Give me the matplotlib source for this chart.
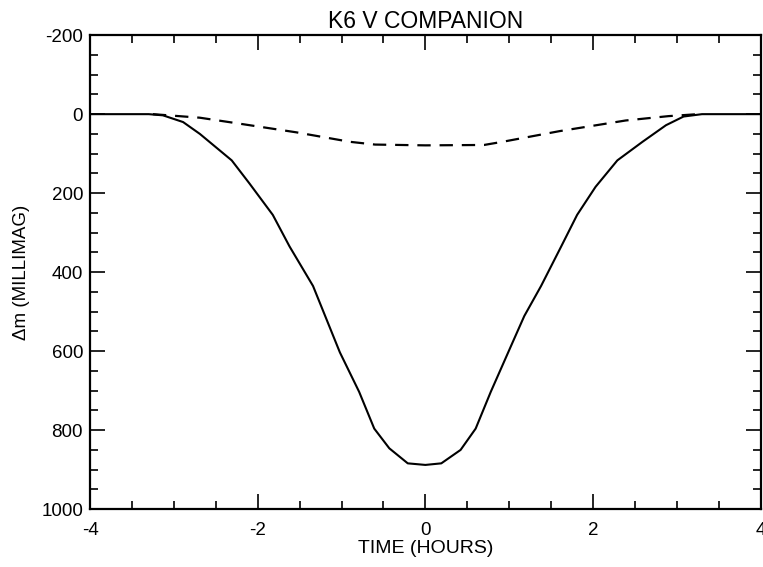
import matplotlib
matplotlib.use("Agg")
import matplotlib.pyplot as plt
from matplotlib.ticker import MultipleLocator

plt.rcParams['font.family'] = ['Liberation Sans', 'DejaVu Sans']
plt.rcParams['axes.unicode_minus'] = False

# Solid curve (total eclipse depth)
t_solid = [-4.0, -3.3, -3.13, -2.89, -2.69, -2.31, -2.10, -1.82, -1.62, -1.34, -1.02,
           -0.79, -0.61, -0.43, -0.21, 0.0, 0.19, 0.42, 0.6, 0.78, 1.04, 1.18, 1.38,
           1.62, 1.81, 2.03, 2.29, 2.59, 2.87, 3.08, 3.3, 4.0]
dm_solid = [0, 0, 3, 20, 50, 117, 175, 255, 335, 435, 603,
            703, 796, 846, 884, 888, 884, 850, 796, 703, 578, 511, 435,
            335, 255, 184, 117, 70, 28, 6, 0, 0]

# Dashed curve
t_dash = [-3.25, -2.69, -2.25, -1.54, -0.9, -0.6, 0.0, 0.7, 0.92, 1.6, 2.39, 2.9, 3.25]
dm_dash = [0, 9, 23, 46, 70, 77, 79, 78, 70, 43, 16, 5, 0]

title = "K6 V COMPANION"
xlabel = "TIME (HOURS)"
ylabel = "Δm (MILLIMAG)"

fig = plt.figure(figsize=(7.63, 5.67), dpi=100)
ax = fig.add_axes([0.118, 0.102, 0.879, 0.836])

ax.plot(t_solid, dm_solid, color='black', lw=1.5)
ax.plot(t_dash, dm_dash, color='black', lw=1.6, dashes=(6, 4))

ax.set_xlim(-4, 4)
ax.set_ylim(1000, -200)

ax.xaxis.set_major_locator(MultipleLocator(2))
ax.xaxis.set_minor_locator(MultipleLocator(0.5))
ax.yaxis.set_major_locator(MultipleLocator(200))
ax.yaxis.set_minor_locator(MultipleLocator(50))

ax.tick_params(which='both', direction='in', top=True, right=True, width=1.2,
               labelsize=13.5, colors='black')
ax.tick_params(which='major', length=11)
ax.tick_params(which='minor', length=6)
ax.tick_params(axis='x', which='major', pad=9)
ax.tick_params(axis='y', which='major', pad=5)
for s in ax.spines.values():
    s.set_linewidth(1.6)

ax.set_title(title, fontsize=16.5, pad=5)
ax.set_xlabel(xlabel, fontsize=14, labelpad=1)
ax.set_ylabel(ylabel, fontsize=13.5, labelpad=8)

fig.savefig("out.png", dpi=100)
